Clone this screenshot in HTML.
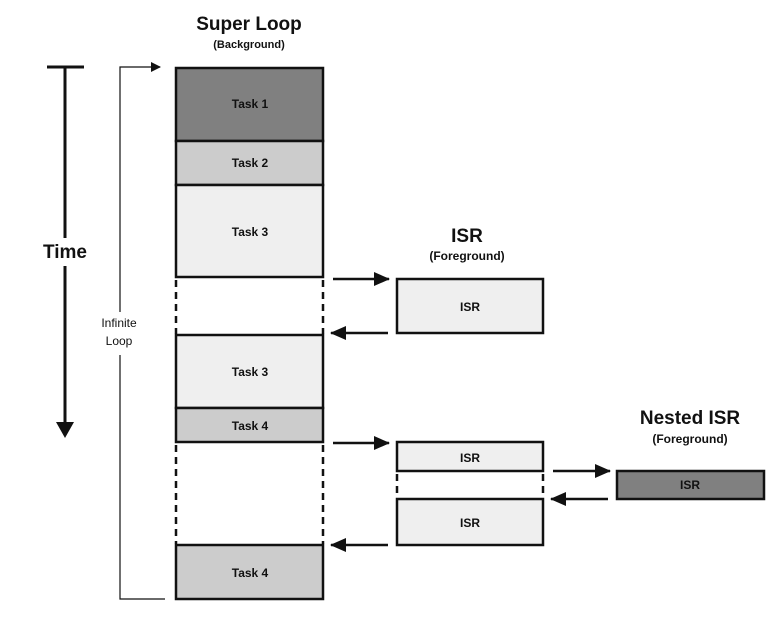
<!DOCTYPE html>
<html><head><meta charset="utf-8"><style>html,body{margin:0;padding:0;background:#fff;}svg{display:block;}text{font-family:"Liberation Sans",Arial,sans-serif;font-weight:bold;fill:#111;}</style></head>
<body>
<svg width="781" height="627" viewBox="0 0 781 627" xmlns="http://www.w3.org/2000/svg">
<defs>
<marker id="a" markerWidth="10" markerHeight="10" refX="9" refY="5" orient="auto" markerUnits="userSpaceOnUse"><path d="M0,0 L10,5 L0,10 z" fill="#111"/></marker>
<marker id="b" markerWidth="16" markerHeight="16" refX="15" refY="8" orient="auto" markerUnits="userSpaceOnUse"><path d="M0,1 L16,8 L0,15 z" fill="#111"/></marker>
</defs>
<text x="249" y="30" font-size="19" text-anchor="middle">Super Loop</text>
<text x="249" y="48" font-size="11" text-anchor="middle">(Background)</text>
<text x="467" y="242" font-size="19" text-anchor="middle">ISR</text>
<text x="467" y="260" font-size="12" text-anchor="middle">(Foreground)</text>
<text x="690" y="424" font-size="19" text-anchor="middle">Nested ISR</text>
<text x="690" y="443" font-size="12" text-anchor="middle">(Foreground)</text>
<line x1="47" y1="67" x2="84" y2="67" stroke="#111" stroke-width="3"/>
<line x1="65" y1="67" x2="65" y2="238" stroke="#111" stroke-width="3"/>
<line x1="65" y1="266" x2="65" y2="425" stroke="#111" stroke-width="3"/>
<path d="M56,422 L74,422 L65,438 z" fill="#111"/>
<text x="65" y="258" font-size="19" text-anchor="middle">Time</text>
<polyline points="165,599 120,599 120,355" fill="none" stroke="#111" stroke-width="1.2"/>
<polyline points="120,312 120,67 160,67" fill="none" stroke="#111" stroke-width="1.2" marker-end="url(#a)"/>
<text x="119" y="327" font-size="12" text-anchor="middle" style="font-weight:normal">Infinite</text>
<text x="119" y="345" font-size="12" text-anchor="middle" style="font-weight:normal">Loop</text>
<g stroke="#111" stroke-width="2.5">
<rect x="176" y="68" width="147" height="73" fill="#808080"/>
<rect x="176" y="141" width="147" height="44" fill="#cccccc"/>
<rect x="176" y="185" width="147" height="92" fill="#efefef"/>
<rect x="176" y="335" width="147" height="73" fill="#efefef"/>
<rect x="176" y="408" width="147" height="34" fill="#cccccc"/>
<rect x="176" y="545" width="147" height="54" fill="#cccccc"/>
<rect x="397" y="279" width="146" height="54" fill="#efefef"/>
<rect x="397" y="442" width="146" height="29" fill="#efefef"/>
<rect x="397" y="499" width="146" height="46" fill="#efefef"/>
<rect x="617" y="471" width="147" height="28" fill="#808080"/>
</g>
<g stroke="#111" stroke-width="2.5" stroke-dasharray="7,5">
<line x1="176" y1="280" x2="176" y2="334"/><line x1="323" y1="280" x2="323" y2="334"/>
<line x1="176" y1="445" x2="176" y2="544"/><line x1="323" y1="445" x2="323" y2="544"/>
<line x1="397" y1="474" x2="397" y2="498"/><line x1="543" y1="474" x2="543" y2="498"/>
</g>
<g font-size="12" text-anchor="middle">
<text x="250" y="108">Task 1</text>
<text x="250" y="167">Task 2</text>
<text x="250" y="236">Task 3</text>
<text x="250" y="376">Task 3</text>
<text x="250" y="430">Task 4</text>
<text x="250" y="577">Task 4</text>
<text x="470" y="311">ISR</text>
<text x="470" y="462">ISR</text>
<text x="470" y="527">ISR</text>
<text x="690" y="489">ISR</text>
</g>
<g stroke="#111" stroke-width="2.5">
<line x1="333" y1="279" x2="389" y2="279" marker-end="url(#b)"/>
<line x1="388" y1="333" x2="331" y2="333" marker-end="url(#b)"/>
<line x1="333" y1="443" x2="389" y2="443" marker-end="url(#b)"/>
<line x1="388" y1="545" x2="331" y2="545" marker-end="url(#b)"/>
<line x1="553" y1="471" x2="610" y2="471" marker-end="url(#b)"/>
<line x1="608" y1="499" x2="551" y2="499" marker-end="url(#b)"/>
</g>
</svg>
</body></html>
